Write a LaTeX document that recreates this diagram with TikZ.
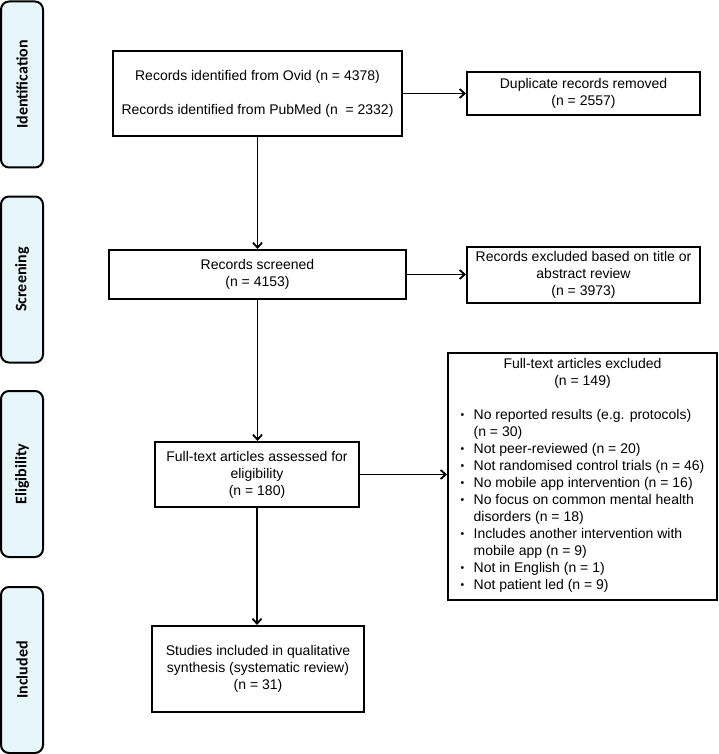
\documentclass[tikz,border=0pt]{standalone}
\usepackage{fontspec}
\setmainfont{Liberation Sans}
\newfontfamily\sidefont{Carlito}
\usetikzlibrary{arrows.meta}
\definecolor{sidefill}{RGB}{230,246,250}
\newcommand\bul{\raisebox{1pt}{\scalebox{0.75}{\textbullet}}}
\begin{document}
\begin{tikzpicture}[x=1pt,y=-1pt,
  box/.style={draw, line width=2pt, inner sep=0pt, align=center,
    font=\fontsize{14}{17}\selectfont},
  side/.style={draw, line width=2pt, rounded corners=8pt, fill=sidefill,
    minimum width=166pt, minimum height=42pt, inner sep=0pt, rotate=90,
    font=\sidefont\bfseries\fontsize{16}{18}\selectfont},
  arr/.style={line width=1.8pt, -{Straight Barb[length=5pt,width=9pt]}}]
\useasboundingbox (0,0) rectangle (718,754);

% side bars
\node[side] (sid1) at (22,84.5) {Identification};
\node[side] (sid2) at (22,279.5) {Screening};
\node[side] (sid3) at (22,474) {Eligibility};
\node[side] (sid4) at (22,670) {Included};

% boxes
\node[box, minimum width=289pt, minimum height=85pt] (ident) at (257.5,93.5)
  {Records identified from Ovid (n = 4378)\\[17pt]Records identified from PubMed (n \ = 2332)};
\node[box, minimum width=233pt, minimum height=43pt] (dup) at (583.5,93.5)
  {Duplicate records removed\\(n = 2557)};
\node[box, minimum width=297pt, minimum height=49pt] (screen) at (257.5,274.5)
  {Records screened\\(n = 4153)};
\node[box, minimum width=233pt, minimum height=56pt] (excl1) at (583.5,274.5)
  {Records excluded based on title or\\abstract review\\(n = 3973)};
\node[box, minimum width=204pt, minimum height=65pt] (assess) at (257,474.5)
  {Full-text articles assessed for\\eligibility\\(n = 180)};
\node[box, minimum width=269pt, minimum height=247pt] (excl2) at (582.5,476)
  {\begin{tabular}{@{}p{13pt}@{}l@{}}
   \multicolumn{2}{c}{Full-text articles excluded}\\
   \multicolumn{2}{c}{(n = 149)}\\
   \multicolumn{2}{c}{}\\
   \bul & No reported results (e.g. protocols)\\
    & (n = 30)\\
   \bul & Not peer-reviewed (n = 20)\\
   \bul & Not randomised control trials (n = 46)\\
   \bul & No mobile app intervention (n = 16)\\
   \bul & No focus on common mental health\\
    & disorders (n = 18)\\
   \bul & Includes another intervention with\\
    & mobile app (n = 9)\\
   \bul & Not in English (n = 1)\\
   \bul & Not patient led (n = 9)
   \end{tabular}};
\node[box, minimum width=212pt, minimum height=86pt] (incl) at (258,669)
  {Studies included in qualitative\\synthesis (systematic review)\\(n = 31)};

% connectors
\draw[arr] (ident.south) -- (ident.south |- screen.north);
\draw[arr] (screen.south) -- (screen.south |- assess.north);
\draw[arr] (assess.south) -- (assess.south |- incl.north);
\draw[arr] (ident.east) -- (dup.west);
\draw[arr] (screen.east) -- (excl1.west);
\draw[arr] (assess.east) -- (assess.east -| excl2.west);
\end{tikzpicture}
\end{document}
